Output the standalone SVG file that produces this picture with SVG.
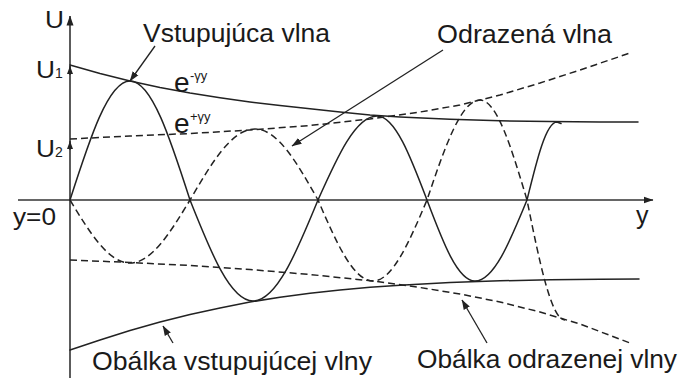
<svg xmlns="http://www.w3.org/2000/svg" width="683" height="378" viewBox="0 0 683 378">
<defs>
<style>
.ln{fill:none;stroke:#222;stroke-width:1.5;stroke-linejoin:round;stroke-linecap:round}
.ds{fill:none;stroke:#222;stroke-width:1.5;stroke-dasharray:7 4;stroke-linejoin:round}
.ax{fill:none;stroke:#333;stroke-width:1.6}
.ar{fill:none;stroke:#222;stroke-width:1.3}
text{font-family:"Liberation Sans",Arial,sans-serif;fill:#1a1a1a}
.lb{font-size:26px}
.sm{font-size:13px}
.u{font-size:23px}
.sub{font-size:14px}
</style>
<marker id="ah" markerWidth="10" markerHeight="8" refX="9.5" refY="4" orient="auto" markerUnits="userSpaceOnUse">
<path d="M0,0.5 L10,4 L0,7.5 Z" fill="#222"/>
</marker>
<marker id="tk" markerWidth="8" markerHeight="7" refX="8" refY="3.5" orient="auto" markerUnits="userSpaceOnUse">
<path d="M0,0.5 L8,3.5 L0,6.5 Z" fill="#222"/>
</marker>
</defs>
<rect width="683" height="378" fill="#fff"/>

<g id="axes">
<line class="ax" x1="70" y1="378" x2="70" y2="16" marker-end="url(#ah)"/>
<line class="ax" x1="18" y1="200" x2="653" y2="200" marker-end="url(#ah)"/>
<line class="ax" x1="70" y1="75" x2="70" y2="66" marker-end="url(#tk)"/>
<line class="ax" x1="70" y1="150" x2="70" y2="141" marker-end="url(#tk)"/>
</g>

<g id="envelopes">
<polyline id="env-incident-top" class="ln" points="70,65 100,73.5 130,81 160,87.5 190,93 220,97.8 250,102 280,105.6 310,108.7 340,112 370,115 400,117 450,119.3 500,120.8 550,121.6 600,122 638,122"/>
<polyline id="env-incident-bottom" class="ln" points="70,350 100,340 130,330.5 160,322 190,314.5 220,308 250,302 280,297.3 310,293.3 340,290 370,287.3 400,285.2 450,282.5 500,280.8 550,279.8 600,279.2 639,279"/>
<polyline id="env-reflected-top" class="ds" points="70,139 130,136 190,133.5 250,130 310,125.5 370,119 420,112 460,105 500,95 540,83 580,70 630,53"/>
<polyline id="env-reflected-bottom" class="ds" points="70,260 130,262.5 190,265.5 250,269.5 310,274.5 373,281 420,287.5 460,294 500,302 540,312 580,324 630,343"/>
</g>

<g id="waves">
<path id="wave-incident" class="ln" d="M70,200 C89.6,139 108.3,81 130,81 C151.7,81 170.4,139 190,200 C210.5,251.7 230.2,301 253,301 C276.5,301 296.8,251.7 318,200 C337.2,157 355.6,116 377,116 C395.1,116 410.7,157 427,200 C442.6,241.5 457.6,281 475,281 C493.8,281 510,241.5 527,200 C536.8,160 546.1,122 557,122 L561,123.5"/>
<path id="wave-reflected" class="ds" d="M70,200 C89.6,232.3 108.3,263 130,263 C151.7,263 170.4,232.3 190,200 C211.2,163.6 231.5,129 255,129 C277.8,129 297.5,163.6 318,200 C335.9,241.5 353.1,281 373,281 C392.5,281 409.4,241.5 427,200 C444.3,148.8 460.8,100 480,100 C497,100 511.7,148.8 527,200 C539.4,261.5 551.2,320 565,320"/>
</g>

<g id="connectors">
<line class="ar" x1="155" y1="46" x2="130" y2="81" marker-end="url(#ah)"/>
<line class="ar" x1="443" y1="50" x2="292" y2="146" marker-end="url(#ah)"/>
<line class="ar" x1="173" y1="343" x2="163" y2="326" marker-end="url(#ah)"/>
<line class="ar" x1="487" y1="343" x2="462" y2="300" marker-end="url(#ah)"/>
</g>

<g id="labels">
<text x="45" y="28" class="u" textLength="19" lengthAdjust="spacingAndGlyphs">U</text>
<text x="36" y="78" class="u" textLength="19" lengthAdjust="spacingAndGlyphs">U</text><text x="55" y="78" class="sub">1</text>
<text x="36" y="157" class="u" textLength="19" lengthAdjust="spacingAndGlyphs">U</text><text x="55" y="157" class="sub">2</text>
<text x="13" y="225" style="font-size:24px" textLength="43" lengthAdjust="spacingAndGlyphs">y=0</text>
<text x="636" y="224" style="font-size:25px">y</text>
<text x="174" y="92" style="font-size:28px">e</text><text x="190" y="80" class="sm">-γy</text>
<text x="174" y="133" style="font-size:28px">e</text><text x="190" y="121" class="sm">+γy</text>
<text x="143" y="42" class="lb" textLength="187" lengthAdjust="spacingAndGlyphs">Vstupujúca vlna</text>
<text x="437" y="43" class="lb" textLength="175" lengthAdjust="spacingAndGlyphs">Odrazená vlna</text>
<text x="92" y="370" class="lb" textLength="280" lengthAdjust="spacingAndGlyphs">Obálka vstupujúcej vlny</text>
<text x="417" y="368" class="lb" textLength="260" lengthAdjust="spacingAndGlyphs">Obálka odrazenej vlny</text>
</g>
</svg>
